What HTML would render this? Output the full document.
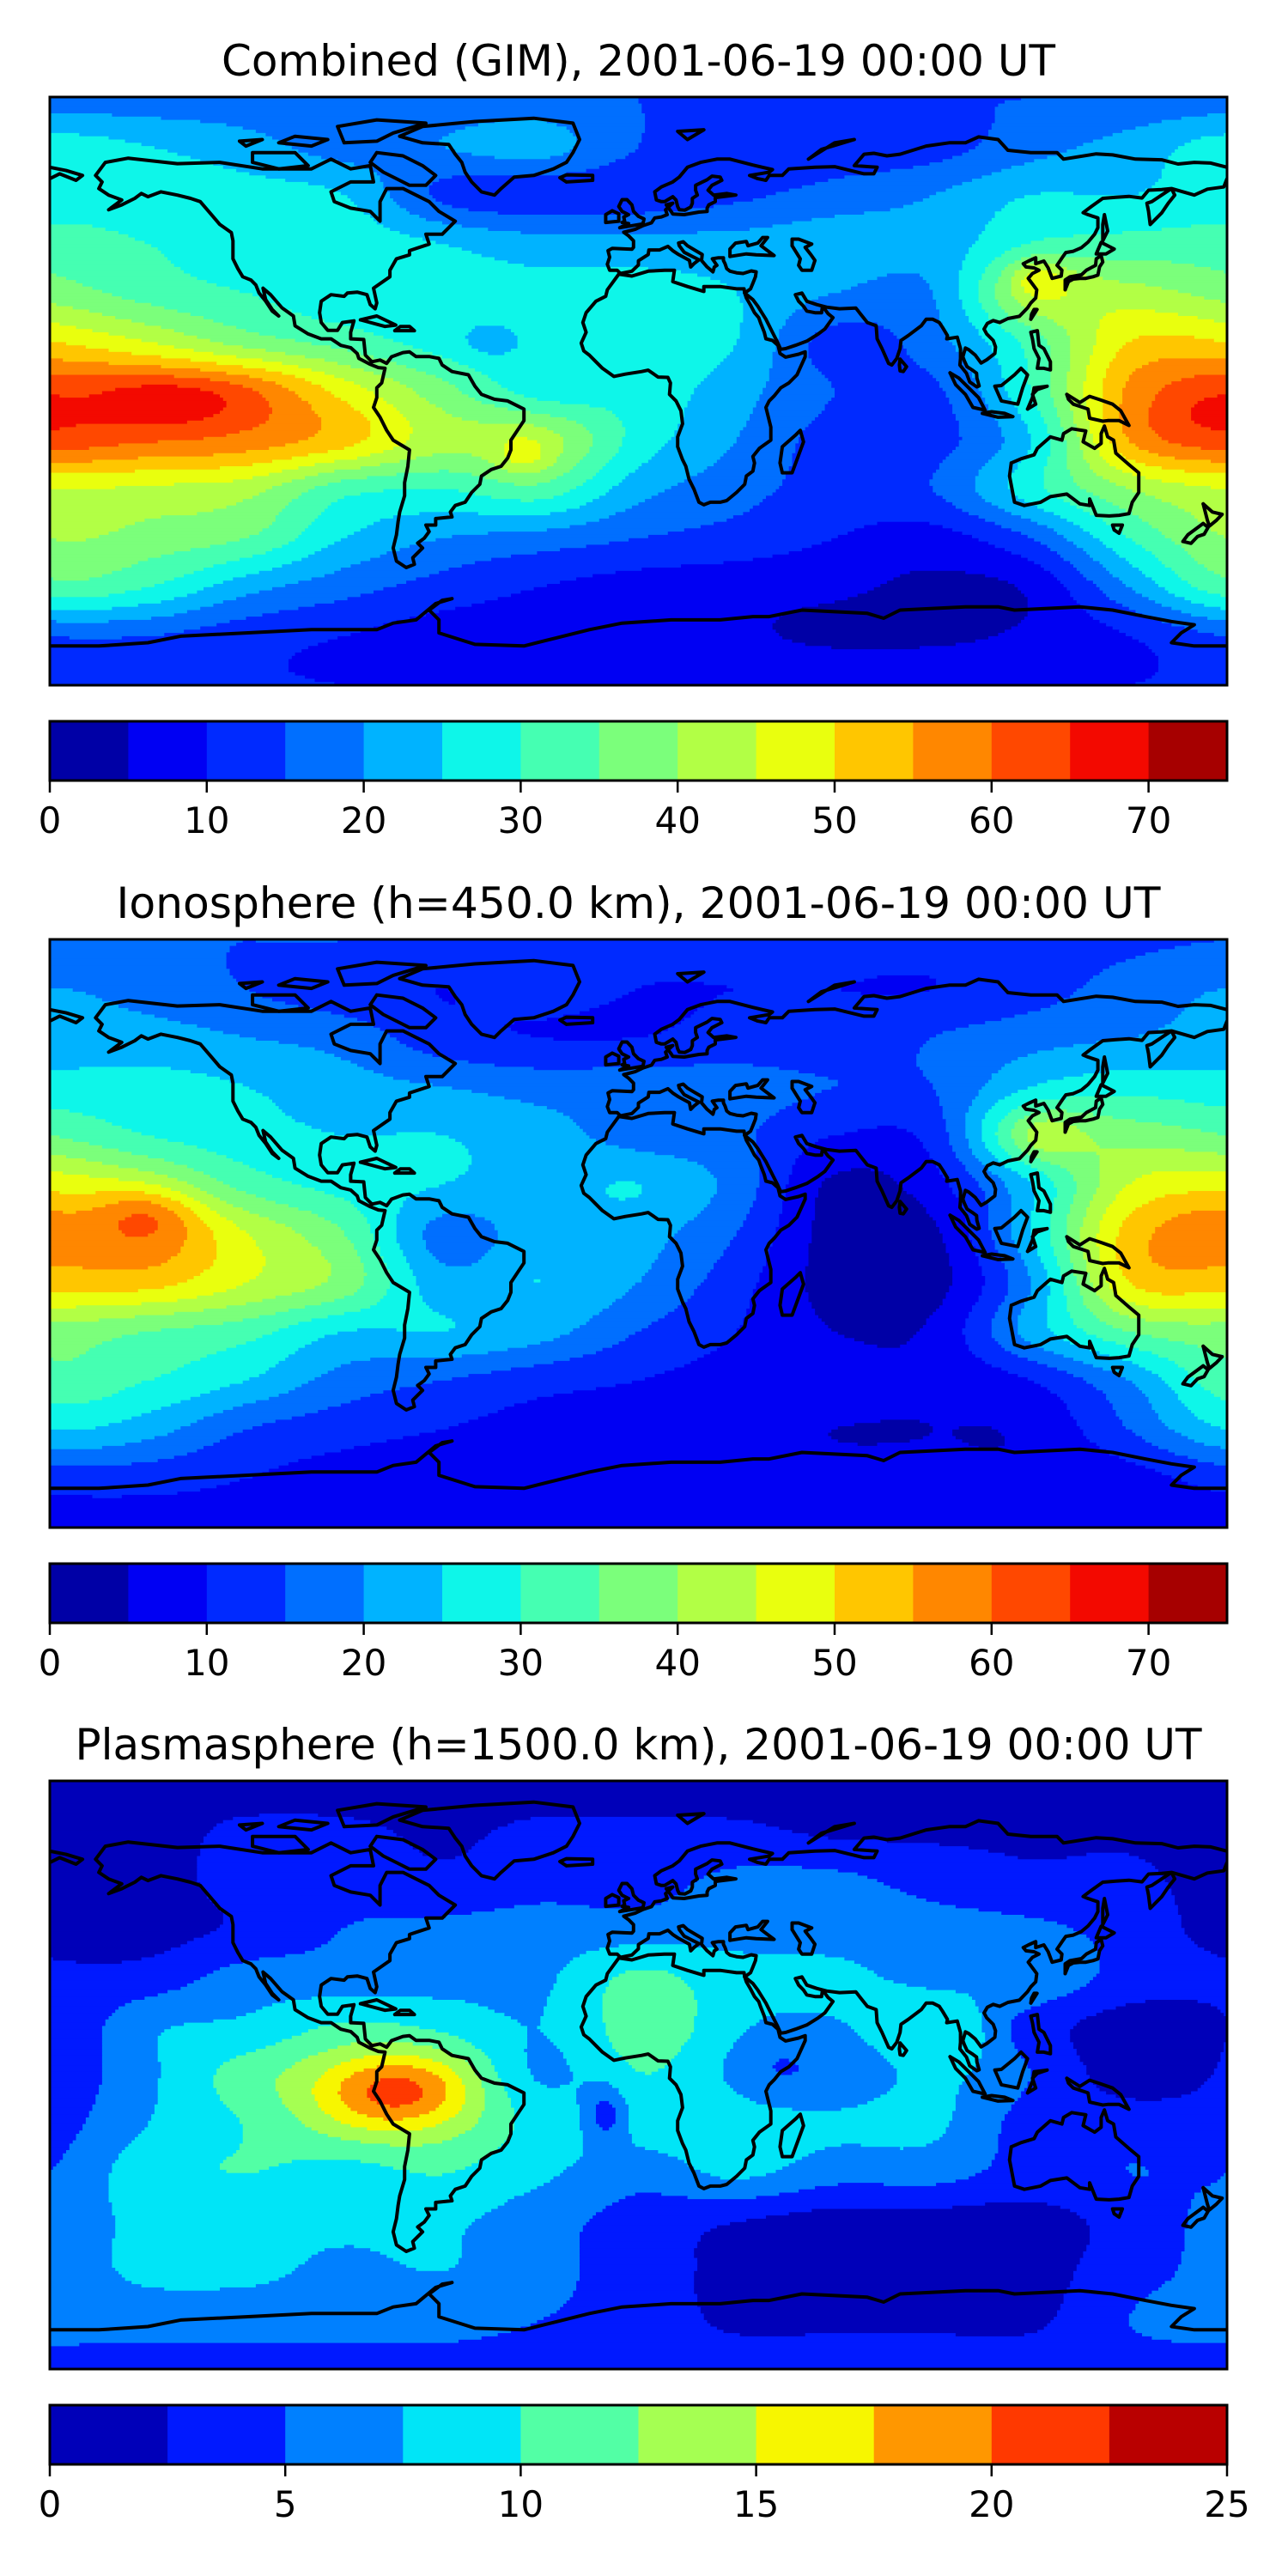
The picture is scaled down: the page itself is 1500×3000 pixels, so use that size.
<!DOCTYPE html>
<html><head><meta charset="utf-8"><title>TEC maps</title>
<style>html,body{margin:0;padding:0;background:#fff}svg{display:block}text{font-family:"DejaVu Sans","Liberation Sans",sans-serif;fill:#000}</style>
</head><body>
<svg id="fig" width="1500" height="3000" viewBox="0 0 1500 3000" xmlns="http://www.w3.org/2000/svg">
<rect x="0" y="0" width="1500" height="3000" fill="#fff"/>
</svg>
<script>
// ---- data ----
const p1Title = "Combined (GIM), 2001-06-19 00:00 UT";
const p2Title = "Ionosphere  (h=450.0 km), 2001-06-19 00:00 UT";
const p3Title = "Plasmasphere (h=1500.0 km), 2001-06-19 00:00 UT";
const p1Ticks = [0,10,20,30,40,50,60,70];
const p2Ticks = [0,10,20,30,40,50,60,70];
const p3Ticks = [0,5,10,15,20,25];
const p1Levels = [0,75,5];
const p3Levels = [0,25,2.5];
// grid: columns lon -180..150 step 30, rows lat 90..-90 step 15
const gridLons = [-180,-150,-120,-90,-60,-30,0,30,60,90,120,150];
const gridLats = [90,75,60,45,30,15,0,-15,-30,-45,-60,-75,-90];
const p1Grid = [
 [17,17,17,17,17,17,15,15,15,15,15,16],
 [27,25,22,18,20,22,15,12,12,13,18,22],
 [28,28,27,25,14,12,12,14,17,20,25,25],
 [32,30,28,28,25,22,22,22,23,22,30,32],
 [38,33,30,27,27,27,27,25,20,20,42,42],
 [50,45,38,33,28,27,28,25,13,18,32,50],
 [62,62,60,48,37,28,28,22,15,14,30,56],
 [62,60,58,52,42,42,28,20,13,13,25,55],
 [45,44,42,32,30,33,22,17,13,15,28,40],
 [40,38,35,25,20,18,15,13,10,8,15,30],
 [33,30,22,17,13,10,8,7,6,4,6,20],
 [15,15,12,10,8,8,8,6,4,4,6,10],
 [10,10,10,10,10,10,10,10,10,10,10,10]];
const p2Grid = [
 [15,15,15,15,13,13,12,12,12,12,13,14],
 [20,18,15,12,10,12,10,10,10,10,13,17],
 [22,22,20,18,12,10,10,12,12,15,18,20],
 [27,27,25,22,20,18,18,17,15,15,25,28],
 [35,30,27,25,25,22,18,16,10,12,38,38],
 [48,43,33,28,25,23,25,18,4,8,25,45],
 [55,57,45,35,18,23,22,15,3,4,25,52],
 [52,52,45,38,22,25,20,12,3,3,20,50],
 [38,35,32,25,25,22,15,10,5,6,22,35],
 [33,30,25,18,15,12,10,8,7,6,10,20],
 [25,22,15,12,10,8,7,6,5,5,6,15],
 [12,12,10,8,7,7,7,6,6,6,6,8],
 [8,8,8,8,8,8,8,8,8,8,8,8]];
const p3Grid = [
 [1,1,1,1,1,1,1,1,1,1,1,1],
 [1.5,1.5,3,3,2,3,3,3,2,2,2,2],
 [1.5,1.5,3.5,4,3,4,4,5.5,5.5,4,3,3],
 [1.5,1.5,3,5,5.5,6,6,6.5,6.5,6,5.5,4],
 [3,3.5,6,6,6.5,7,10.5,8.5,8,7,7,4],
 [2.5,7,8,10,9,7.5,11,9,7.5,9,4,1.5],
 [3,7,11,12,12,7,10,8,6,8,5,1.5],
 [4,7.5,10,12,12,9,9,9,8,8,4,4],
 [5,9,10,9,10,8,6,8,6,6,4,5],
 [6,8,8,8,8,6,4,2.5,1.5,1.5,1.5,3.5],
 [6,8,8,7,7.5,6,3.5,2,1.5,1.5,1.5,4],
 [6,6,6,6,6,5,4,2,2,2,2,5],
 [4,4,4,4,4,4,4,4,4,4,4,4]];
// local features: [lon, lat, amplitude, lonWidth, latWidth]
const p1Blobs = [[-145,-3,6,20,8],[175,-5,3,12,10],[122,35,8,8,6],[-35,-20,6,8,6],[-45,15,-4,10,6]];
const p2Blobs = [[-150,7,7,15,8],[175,0,5,12,8],[125,30,5,8,6]];
const p3Blobs = [[-75,-5,8.5,24,12],[-10,-12,-5,7,9],[40,5,-2.2,15,14],[155,5,-0.5,15,12],[100,12,2,6,8]];

// coastlines (lon,lat pairs)
const coasts = [
 [-166,66,-163,70,-156,71.3,-141,69.6,-128,70,-115,68,-100,68,-94,71,-88,68,-82,69,-81,64,-88,64,-94,61,-93,58,-88,56,-82,55,-79,52,-79,58,-77,62,-72,62,-68,60,-64,58,-61,55,-56,52,-60,48,-65,48,-64,45,-70,43,-70,41.7,-74,40.5,-76,37,-76,35,-81,31.5,-80,27,-80.5,25.2,-82,26.5,-83,29.5,-86,30.3,-89,30,-90,29,-94,29.5,-97,27.5,-97.5,24,-97,21,-95,18.6,-92,18.6,-90.5,21,-87,21.5,-88,18,-88,16,-84,15.8,-83.5,11,-81.5,9,-79,9.5,-77,8.5,-75.5,10.5,-72,11.8,-70,12,-68,10.6,-64,10.6,-61,10,-60,8,-57,6,-52,5,-50,1.5,-48,-1,-44,-2.5,-40,-3,-35,-5.5,-35,-9,-37,-12,-39,-15,-39,-18,-40,-20.5,-42,-23,-45,-24,-48,-26,-48.5,-28.5,-51,-31,-53,-34,-56,-35,-57.5,-37,-57,-38.5,-62,-39,-62,-41,-65,-41,-64,-43,-65.5,-45,-67.5,-46.5,-66,-48,-69,-51,-68.5,-53,-71,-54,-74,-52,-75,-48,-74,-44,-73.5,-40,-73,-37,-71.5,-32,-71.5,-28,-70.5,-23,-70,-18,-75,-15,-77,-12,-79,-8,-81,-5,-80,-2,-80,1,-78.5,2.5,-77.5,7,-79.5,7.2,-82,8.2,-85.5,10,-86,11.5,-88,13.3,-91,14,-94,16,-97,16,-101,17.5,-105,20,-105.5,23,-109,25.5,-112.5,29.5,-114.8,31.5,-114,28,-112,25,-110,23,-112,24.5,-114,27.5,-116,30,-117,32.5,-118.5,34,-121,35,-122.5,37.5,-124,40.5,-124,46,-124.5,48.5,-128,51,-131,54.5,-134,58,-137,59,-141,60,-146,61,-150,59.5,-152,60.5,-154,59,-158,57,-162,55.5,-158,58.5,-162,60,-165,62,-164,64,-166,66],
 [-73,78,-66,81,-50,82.5,-32,83.5,-20,82,-18,77,-20,73,-22,70,-26,68,-32,66,-38,65.5,-42,62,-44,60,-48,61,-51,64,-53,67,-54,70,-56,72.5,-58,75.5,-66,76,-73,78],
 [-80,73,-72,72,-66,69,-62,66,-65,63,-70,63,-74,65,-78,67,-82,70,-80,73],
 [-118,73,-105,73,-101,69,-110,68,-118,70,-118,73],
 [-90,76,-80,76.5,-75,79,-65,82,-80,83,-92,81,-90,76],
 [-100,75,-95,77,-105,78,-110,76,-100,75],
 [-120,75,-115,77,-122,76.5,-120,75],
 [32.3,31.3,30,31.3,25,32,20,32,20,30.5,15,32,10.5,33.5,11,37,8,37,3,36.7,-2,35.2,-6,35.8,-9.5,31,-10,29,-13,27.5,-16,24,-17,21,-16,18,-17.5,14.7,-16.7,12.3,-15,11,-13,9,-11,7,-7.5,4.5,-4,5.2,1,6,3,6.4,6,4.3,9,4.2,9.8,2.5,9.5,-1,11.5,-3,13,-6,13.5,-10,12,-14,12,-17,13.5,-21,14.5,-23,15.5,-27,17,-30,18.5,-34,20,-34.8,22,-34,25,-34,27,-33.5,30,-31,32.5,-28.5,33,-26,35,-24.5,35.5,-22,35,-20,37,-17.5,40.5,-15,40.5,-11,39.5,-7,39,-5,40,-3,41.5,-1.5,43.5,1,46,2.5,48.5,5,51,10.5,51,12,49,11.3,45,10.4,43.3,11.5,42.7,14,41,15.5,39,16,38.5,18,37.3,21,36.8,22.5,35.5,24,34.2,26.5,33,28.5,32.5,30,32.3,31.3],
 [32.5,30,35,28,36.5,26,39,22,41,18,42.5,15,43.5,12.8,45,13,48,14,51.5,15.3,55,17.5,57,19,59.5,22.5,58,23.7,56.3,26,56,24,54,24,51.5,24.5,50.5,26,49,27.5,48,29.5,50,30,51.5,27.5,54.5,26.5,57.5,25.7,61.5,25.2,66.5,25.4,68,23.5,70,21,72.7,20,73,16,74.5,13,76.5,8.5,77.5,8,79,10,80,13,80.3,15.5,82.5,17,86.5,20,88,22,90,22,92,21,93,19.5,94.5,17,94.3,16,97.5,16.5,98.5,13,98.5,10,98.3,8,100.3,5.5,101.3,2.8,103.5,1.3,104.2,1.6,103.5,4,103.4,5.5,102,6.5,100.5,7.5,99.7,9.2,99.2,10.5,100,13.2,101,12.7,103,11,104.8,8.6,106.5,9.6,109,11.5,109.2,13.5,108.5,15.5,106.5,17.5,105.7,19,106.7,20.7,108.5,21.6,110.5,21,113,22.2,116.5,22.9,119,25.5,120,27,121.5,28.5,121.8,31,120.7,32.5,119.2,34.5,120.5,36,122.5,37,121,37.7,118.5,38,117.7,39,119.3,39.8,121.5,40.8,121.5,39,124,39.8,125.3,37.7,126.5,34.5,129.3,35.2,129.5,37,128,38.5,129.7,41,130.7,42.4,133,42.8,135.5,43.9,137.5,45.6,139.5,48,140.5,50,140.5,53,137.5,54,136,54.6,138.5,56.5,142,59,146,59.3,150,59.6,154,59.1,156,61.5,160,61.7,163,62,164,60,162,57.5,160,54.5,156.5,51,156,55,155.5,57.5,157,58,163,62,170,60,174,61.8,179,62.5,180,65],
 [-180,65,-177,66.5,-172,64.5,-170,66,-175,67.5,-180,68.5],
 [180,68.5,175,69.8,170,70,165,69.5,160,70.8,152,71,145,72.3,140,72.6,130,71,128,73,120,73,113,73.7,110,77,104,77.8,100,76,95,76,88,75,80,72.5,76,72,72,72.8,69,72.5,66,69,73,68.5,72,66.5,69,66.5,60,68.7,54,68.5,46,68,44,66,40,66,39,64.5,36.5,65,34,66,40,67,41,67.8,35,69.2,28,71,24,71,19,70,15,68.5,12.5,65.5,10.5,64,7,62.5,5,61,5.5,58.5,7,58,8,58,10.5,59.5,11.5,58.5,12,56.5,12.5,55.5,14.2,55.4,16,56.3,16.5,57.5,16.5,59,18,60,17.5,61.5,17.5,63,21,64.7,22.5,65.8,25,65.5,25.5,64.5,22.5,63,21.3,61.5,23,60,27,60.5,29.8,60,23.5,59.2,23.5,58,21.5,57,21,56,21,55,18.5,54.8,14,54,10.5,54.2,10,55,8.5,57,10.5,57.5,8.3,55.5,8.8,54,7,53.3,5,53,4,51.5,1.5,50.7,-1,49.5,-4.5,48.6,-3,47.5,-1.5,46,-1.5,44,-2,43.4,-8,43.7,-9.3,43,-8.8,41,-9.5,38.8,-8.8,37,-6.5,37,-5.5,36,-2,36.7,0,38.6,0,39.9,3,41.8,3.2,43.2,6.5,43.2,9,44.3,10.5,43,12.3,41.8,15.6,40,16,38,17,39,18.5,40.2,16.5,41.2,14,42.5,12.5,44.5,12.3,45.3,13.7,45.7,15,44.5,17.5,43,19.5,41.8,19.3,40,21,38,22.8,36.5,23.2,38,24,38.5,22.6,40.5,24.5,40.8,26,40.8,26,40,26.5,39,27,37.5,28,36.7,30,36.2,32,36,34.5,36.8,36,36.5,35.8,35,35,33,34.3,31.3,32.5,30],
 [28,41.2,28,43.5,29.7,45.3,33,45.8,33.5,44.5,36.5,45.3,38,47,39.5,47,37.5,44.5,41.5,41.5,36,41.7,33,42,28,41.2],
 [47,44.5,47,46.5,49,46.5,53,45,51,44,52.7,41.8,54,40,53,37,50,37,49,38.5,49.5,40.5,47,44.5],
 [44,-25,47,-25,50.5,-15.5,49.5,-12,48,-13.5,44,-17,43.3,-22,44,-25],
 [114,-22,113.5,-26,115,-34,118,-35,123,-34,126,-32.3,131,-31.5,135,-34.5,138,-35,138,-33,140,-38,144,-38.2,147,-38,150,-37.5,151,-34,153,-31,153,-25,150,-22.5,146,-19,145.3,-15,143.5,-14,142.5,-10.7,141.5,-13,141.5,-16,139.5,-17.5,136,-15.5,136.8,-12.2,132.5,-11.5,130,-13,129.5,-15,126,-14,122,-17.5,121,-19.5,117,-20.7,114,-22],
 [145,-41,148,-41,147,-43.5,145.5,-42.5,145,-41],
 [172.7,-34.5,175.5,-37,178.5,-37.7,176.8,-39.5,174.6,-41.3,174,-39.5,172.7,-34.5],
 [172.7,-40.5,174.2,-41.7,173,-43.8,171,-44.5,169,-46.6,166.5,-46,168,-44,172.7,-40.5],
 [-180,-78,-165,-78,-150,-77,-140,-75,-120,-74,-100,-73,-80,-73,-75,-71,-68,-70,-62,-65,-57,-63.5,-60,-64,-64,-67,-61,-70,-61,-74,-50,-77.5,-35,-78,-25,-75.5,-15,-73,-5,-71,10,-70,25,-70,35,-69,40,-69,50,-67,60,-67.5,70,-68,75,-69.5,80,-67,90,-66.5,100,-66,110,-66,115,-67,125,-66.5,135,-66,145,-67,155,-69,163,-70.5,170,-71.5,166,-74,163,-77,170,-78,180,-78],
 [130.5,31,131.5,33.5,133,34.3,135,34.5,136.8,34.5,139,35,140.5,35.5,141,38,142,39.5,141.5,41.5,140,40.5,139.8,38.5,137,37,135.5,35.6,132,35,130.5,34,130.5,31],
 [140,42,141.5,45.5,145.5,43.5,143,42,140,42],
 [120,18,122,18.5,122.5,14,124,13,126,9,126,6.5,124,7,122,7,122.5,10,121,13,120.5,16,120,18],
 [109,1.5,111,-3,116,-4,117.5,1,119,5,117,7,115,5,111,1.7,109,1.5],
 [95.3,5.6,98,4,104,-2,106,-5.8,102.3,-5,100,-1,97,2,95.3,5.6],
 [105.2,-6.8,108,-6.3,112,-6.8,114.5,-7.8,110,-8,105.2,-6.8],
 [131,-1,135,-3.5,138,-1.6,141,-2.6,145,-4,147.5,-6,150,-10.5,147,-9,143.5,-9,142,-9.2,138,-8.3,137.5,-5.5,133,-4,131.5,-2.5,131,-1],
 [119,-5.5,120.5,-2,121,1,125,1.5,122,0.5,120.5,-1,121.5,-4,119,-5.5],
 [80,9.8,82,7.5,81,6,80,6.2,79.8,8,80,9.8],
 [-5.7,50,1.4,51.2,1.7,52.7,0,53.5,-1.5,55,-2,57,-3.5,58.6,-5,58.6,-6,56.5,-5,55,-3,54,-4.5,53.3,-4.2,52,-5,51.6,-3,51.3,-5.7,50],
 [-6,52,-6,54.3,-8,55.2,-10,54,-10,51.6,-6,52],
 [-22,64,-14,64.5,-14,66,-22,66.2,-24,65.3,-22,64],
 [-85,21.8,-80,23,-74.2,20.2,-77.5,19.8,-85,21.8],
 [-74.5,18.5,-68.5,18.5,-70,19.8,-72.8,19.8,-74.5,18.5],
 [15,77,20,80,12,79.5,15,77],
 [52,71,56,74,66,77,60,76,52,71],
 [142,46,143.5,49,142.5,54,142,51,142,46],
 [120,22,121.9,25,121,25,120.2,23.5,120,22]
];

// ---- rendering ----
const NS = "http://www.w3.org/2000/svg";
const svg = document.getElementById('fig');
const MX0 = 58, MX1 = 1429, MW = MX1 - MX0, MH = 685;
const panels = [
 {title:p1Title, grid:p1Grid, blobs:p1Blobs, lv:p1Levels, ticks:p1Ticks, y0:113, tw:971, name:'combined'},
 {title:p2Title, grid:p2Grid, blobs:p2Blobs, lv:p1Levels, ticks:p2Ticks, y0:1094, tw:1216, name:'ionosphere'},
 {title:p3Title, grid:p3Grid, blobs:p3Blobs, lv:p3Levels, ticks:p3Ticks, y0:2074, tw:1312, name:'plasmasphere'}
];
function interp(pts, x){for(let i=0;i<pts.length-1;i++){const a=pts[i],b=pts[i+1];if(x>=a[0]&&x<=b[0]){return a[1]+(b[1]-a[1])*(x-a[0])/(b[0]-a[0]);}}return pts[pts.length-1][1];}
const JR=[[0,0],[0.35,0],[0.66,1],[0.89,1],[1,0.5]], JG=[[0,0],[0.125,0],[0.375,1],[0.64,1],[0.91,0],[1,0]], JB=[[0,0.5],[0.11,1],[0.34,1],[0.65,0],[1,0]];
function jet(x){const c=v=>Math.round(Math.max(0,Math.min(1,v))*255);return `rgb(${c(interp(JR,x))},${c(interp(JG,x))},${c(interp(JB,x))})`;}
function el(tag, attrs, parent){const e=document.createElementNS(NS,tag);for(const k in attrs)e.setAttribute(k,attrs[k]);(parent||svg).appendChild(e);return e;}
function cr(p0,p1,p2,p3,t){return 0.5*((2*p1)+(-p0+p2)*t+(2*p0-5*p1+4*p2-p3)*t*t+(-p0+3*p1-3*p2+p3)*t*t*t);}
function field(p, lon, lat){
  const G = p.grid, nC = gridLons.length, nR = gridLats.length;
  const fx = (lon + 180)/30, fy = (90 - lat)/15;
  const ix = Math.floor(fx), iy = Math.min(nR-2, Math.floor(fy));
  const tx = fx - ix, ty = fy - iy;
  const row = r => { r = Math.max(0, Math.min(nR-1, r)); const g = G[r];
    const c = k => g[((k % nC) + nC) % nC];
    return cr(c(ix-1), c(ix), c(ix+1), c(ix+2), tx); };
  let v = cr(row(iy-1), row(iy), row(iy+1), row(iy+2), ty);
  for(const b of p.blobs){
    const dl = ((lon - b[0] + 540) % 360) - 180;
    const dp = lat - b[1];
    v += b[2]*Math.exp(-((dl/b[3])**2 + (dp/b[4])**2));
  }
  return v;
}
panels.forEach((p, pi) => {
  const nL = Math.round((p.lv[1]-p.lv[0])/p.lv[2]);
  const colors = [];
  for(let i=0;i<nL;i++) colors.push(jet((i+0.5)/nL));
  const X = lon => MX0 + (lon+180)/360*MW;
  const Y = lat => p.y0 + (90-lat)/180*MH;
  const tt = el('text',{x:(MX0+MX1)/2, y:p.y0-25, 'font-size':50, 'text-anchor':'middle', textLength:p.tw, lengthAdjust:'spacingAndGlyphs'});
  
  
  tt.textContent = p.title;
  const clipId = 'clip'+pi;
  const defs = el('defs',{});
  const cp = el('clipPath',{id:clipId},defs);
  el('rect',{x:MX0,y:p.y0,width:MW,height:MH},cp);
  const g = el('g',{'clip-path':`url(#${clipId})`});
  
  
  const step = 1, nx = 360/step, ny = 180/step;
  for(let j=0;j<ny;j++){
    const lat = 90 - (j+0.5)*step;
    let runStart = 0, runC = -1;
    for(let i=0;i<=nx;i++){
      let c = -1;
      if(i<nx){
        const lon = -180 + (i+0.5)*step;
        const v = field(p, lon, lat);
        c = Math.max(0, Math.min(nL-1, Math.floor((v - p.lv[0])/p.lv[2])));
      }
      if(c !== runC){
        if(runC >= 0){
          const x0 = X(-180+runStart*step), x1 = X(-180+i*step);
          const r = el('rect',{x:x0.toFixed(1), y:Y(90-j*step).toFixed(1), width:(x1-x0+0.6).toFixed(1), height:(MH/ny+0.6).toFixed(1), fill:colors[runC]}, g);
          
          
        }
        runStart = i; runC = c;
      }
    }
  }
  const cg = el('g',{fill:'none', stroke:'#000', 'stroke-width':4, 'stroke-linejoin':'round', 'stroke-linecap':'round'}, g);
  
  
  coasts.forEach(c => {
    const pts = [];
    for(let k=0;k<c.length;k+=2) pts.push(X(c[k]).toFixed(1)+','+Y(c[k+1]).toFixed(1));
    const pl = el('polyline',{points:pts.join(' ')}, cg);
    
    
  });
  const fr = el('rect',{x:MX0, y:p.y0, width:MW, height:MH, fill:'none', stroke:'#000', 'stroke-width':3});
  
  
  const cy = p.y0 + MH + 42, ch = 69;
  const cb = el('g',{});
  
  
  const CX = v => MX0 + (v - p.lv[0])/(p.lv[1]-p.lv[0])*MW;
  for(let i=0;i<nL;i++){
    const a = CX(p.lv[0]+i*p.lv[2]), b = CX(p.lv[0]+(i+1)*p.lv[2]);
    const r = el('rect',{x:a.toFixed(1), y:cy, width:(b-a+0.5).toFixed(1), height:ch, fill:colors[i]}, cb);
    
    
  }
  el('rect',{x:MX0, y:cy, width:MW, height:ch, fill:'none', stroke:'#000', 'stroke-width':3}, cb);
  p.ticks.forEach(t => {
    const x = CX(t);
    el('line',{x1:x, x2:x, y1:cy+ch, y2:cy+ch+14, stroke:'#000', 'stroke-width':2.5}, cb);
    const lt = el('text',{x:x, y:cy+130, 'font-size':42, 'text-anchor':'middle'}, cb);
    
    
    lt.textContent = String(t);
  });
});
</script>
</body></html>
